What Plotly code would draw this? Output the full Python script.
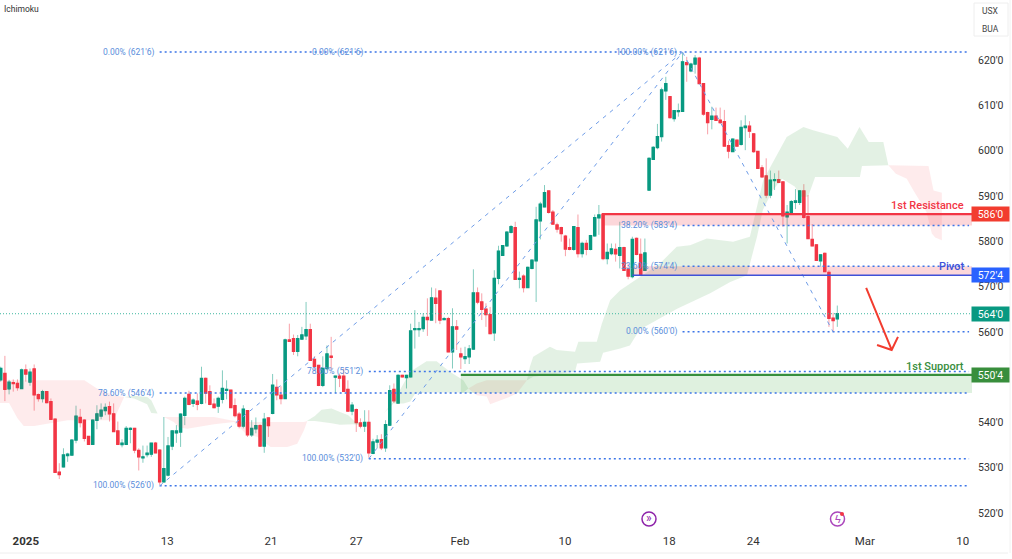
"""Wheat futures candles with Ichimoku cloud, fib levels and S/R zones."""
import plotly.graph_objects as go

# Candle data, one value per bar
OPEN = [549.4,550.8,547.4,548.8,548.6,547.5,551.6,548.9,551.8,546.1,
        545.3,546.8,544.6,540.7,529.0,530.2,532.7,532.8,536.1,541.1,
        540.5,536.9,535.2,540.5,541.4,542.6,543.5,541.9,538.1,535.1,
        535.2,538.5,538.7,533.8,532.2,532.9,533.0,535.4,533.9,526.9,
        528.4,534.8,537.7,537.9,541.6,546.2,544.2,544.7,544.2,549.7,
        546.8,544.0,543.6,545.1,547.1,547.1,543.7,541.8,539.2,542.6,
        537.3,538.6,539.3,534.8,541.0,542.0,547.7,546.0,545.3,558.2,
        558.5,555.7,558.4,559.1,560.5,553.9,552.6,548.2,551.9,554.6,
        550.0,550.2,550.2,547.3,542.5,542.8,539.9,539.2,540.0,533.2,
        535.7,536.2,534.4,539.4,547.3,544.3,550.4,549.9,550.1,560.5,
        560.5,560.7,563.2,562.6,567.4,569.0,562.7,562.9,555.6,561.1,
        555.1,554.1,554.5,556.2,568.6,566.6,565.0,563.8,559.8,571.8,
        576.9,579.0,582.0,583.0,571.6,572.3,569.8,574.0,575.7,584.5,
        587.6,591.1,586.4,583.6,583.0,581.1,578.6,578.2,583.0,577.3,
        579.5,578.2,581.2,585.2,585.9,576.2,577.3,578.2,576.9,578.6,
        573.8,572.2,580.6,577.1,573.6,591.3,598.1,600.7,603.1,613.2,
        611.9,607.1,608.6,608.7,619.4,617.6,619.1,620.4,614.8,608.4,
        606.9,607.6,606.7,606.4,601.1,599.8,602.3,601.4,605.1,605.4,
        603.7,599.8,596.2,594.4,590.2,593.4,593.6,593.1,585.4,586.3,
        588.6,588.6,591.1,585.4,580.4,579.2,575.7,577.3,573.1,563.0,
        562.9]
HIGH = [552.3,554.7,549.4,549.5,549.5,551.9,552.8,551.9,552.8,546.4,
        547.2,546.8,545.3,540.9,531.0,534.3,533.3,536.3,543.7,543.0,
        540.7,536.9,540.7,543.8,544.2,544.2,544.6,544.2,540.2,536.3,
        539.2,538.9,538.7,534.3,534.9,534.9,535.4,535.7,534.0,541.2,
        536.8,538.3,539.4,542.0,545.7,547.0,545.3,546.4,552.3,549.9,
        548.2,545.3,545.7,551.5,549.3,547.1,545.3,542.3,543.8,542.7,
        540.5,541.1,539.6,542.1,541.2,550.7,549.5,548.0,558.5,561.8,
        559.4,559.3,561.1,566.6,561.8,554.6,552.6,554.6,557.0,558.9,
        550.2,550.8,551.9,549.3,544.5,543.1,540.9,542.7,542.7,536.4,
        537.2,537.4,540.5,548.2,548.6,550.6,550.5,550.5,561.8,564.8,
        562.2,564.1,567.4,569.8,569.6,569.0,563.3,563.3,565.2,562.6,
        556.5,556.7,557.1,573.8,569.8,568.5,566.3,565.5,573.6,579.0,
        579.0,582.2,583.6,584.3,573.3,572.7,574.4,576.0,587.6,588.7,
        592.4,591.1,586.9,584.1,583.2,581.4,580.6,583.3,585.9,579.9,
        580.3,581.4,585.9,588.0,585.9,579.5,579.5,579.5,584.3,578.8,
        575.1,581.0,580.8,580.6,580.6,598.5,601.0,605.9,613.9,616.3,
        611.9,608.9,610.4,621.6,620.7,619.4,621.1,620.7,614.8,608.6,
        609.7,609.5,609.5,609.0,602.2,602.7,602.3,606.7,607.8,606.5,
        603.7,599.8,596.8,598.3,595.6,595.0,595.6,593.1,588.0,589.1,
        591.5,591.3,592.6,590.2,583.8,579.2,577.0,577.5,573.6,564.2,
        565.8]
LOW = [549.0,544.7,546.2,546.8,547.0,547.4,549.0,548.1,542.6,544.6,
       544.4,544.2,540.7,529.0,527.5,530.1,531.3,532.7,535.4,538.9,
       535.8,535.2,535.2,538.5,540.7,541.6,540.2,538.0,535.0,534.5,
       535.0,535.4,533.2,529.4,531.1,532.3,532.4,533.3,526.2,526.7,
       528.1,533.9,535.5,534.6,539.4,543.8,543.4,542.7,544.0,544.2,
       543.8,543.1,542.1,544.2,545.1,543.3,541.1,538.7,538.7,536.8,
       536.8,537.6,534.6,533.3,536.8,541.8,544.9,544.0,545.3,557.8,
       554.9,554.6,558.2,558.2,553.7,551.5,548.0,547.8,551.5,551.7,
       546.5,547.8,546.7,542.5,541.6,537.9,538.7,537.9,532.2,533.0,
       534.3,533.9,533.5,539.2,544.3,544.3,549.9,547.5,549.9,556.3,
       558.9,560.0,559.1,562.6,561.9,561.7,562.6,555.6,551.9,556.0,
       551.8,552.9,552.9,556.0,566.1,562.6,561.1,559.6,558.0,570.5,
       576.9,578.8,581.7,571.6,569.6,568.7,569.8,573.8,566.6,580.4,
       587.5,586.1,583.6,581.9,579.9,576.7,578.0,577.9,576.4,576.4,
       576.9,578.0,581.0,581.4,575.8,574.9,576.9,575.5,574.0,573.5,
       571.6,571.8,576.9,572.3,573.6,591.1,598.0,600.3,602.0,611.2,
       607.1,606.4,607.5,608.7,615.2,617.3,617.0,614.7,607.7,603.6,
       604.7,606.6,605.9,601.0,598.3,599.8,600.9,601.1,600.1,602.8,
       599.5,596.1,594.1,589.5,589.5,591.3,592.8,583.2,579.5,585.8,
       587.1,588.0,585.0,580.5,578.9,575.7,574.4,573.3,561.1,560.0,
       561.1]
CLOSE = [551.9,547.3,548.9,548.6,547.7,551.6,550.7,551.1,546.1,545.3,
         546.8,544.4,540.7,529.0,528.5,532.8,533.0,536.1,541.4,540.0,
         536.5,535.2,540.5,541.9,542.7,543.3,541.9,538.0,535.2,535.4,
         538.7,538.7,533.9,532.4,532.4,533.2,535.4,533.3,526.9,529.8,
         534.8,538.1,538.1,541.8,545.3,544.0,544.9,544.0,549.7,546.5,
         544.0,543.3,545.3,547.5,547.3,543.3,541.5,539.2,542.9,537.3,
         538.7,539.3,534.8,540.7,539.3,548.2,546.1,545.3,558.2,557.9,
         555.7,558.5,559.3,560.5,553.7,552.4,548.2,551.9,555.1,554.4,
         550.2,549.8,546.9,542.5,543.8,540.0,539.2,540.0,533.3,535.7,
         536.1,534.4,539.5,547.0,544.8,550.4,550.1,550.4,560.2,560.7,
         560.7,563.2,562.7,567.5,566.3,562.6,562.9,555.6,561.1,560.6,
         554.5,554.5,556.2,568.6,566.6,565.0,563.8,559.6,571.8,577.8,
         579.0,582.0,583.2,571.6,571.8,569.8,574.2,575.8,584.7,588.2,
         590.7,586.4,583.8,582.7,581.7,578.3,578.2,583.2,577.3,579.5,
         578.2,581.2,585.2,585.8,576.2,577.5,578.3,577.2,578.6,573.6,
         572.3,580.4,577.1,572.5,577.4,598.3,600.7,603.1,613.4,614.8,
         607.3,608.8,608.8,619.6,619.0,619.1,620.4,614.8,608.1,606.2,
         607.6,606.7,606.2,601.0,599.9,602.5,601.0,605.1,605.4,604.3,
         599.8,596.1,594.2,590.2,593.5,593.6,593.0,585.6,586.4,588.7,
         588.9,591.1,585.3,580.6,579.0,575.8,577.0,573.3,563.0,562.5,
         564.0]
BARS = list(range(len(OPEN)))

# Ichimoku cloud, the edges of each coloured stretch
RED1_BAR = [-1, 2, 4, 5.5, 8, 16, 20, 23, 27, 29.5]
RED1_TOP = [549.3, 549.3, 549.3, 549.3, 549.3, 549.3, 549.3, 547.5, 546.0, 545.6]
RED1_BOT = [544.3, 544.3, 540.9, 539.2, 539.2, 540.5, 540.5, 540.5, 540.5, 545.6]

GREEN1_BAR = [29.5, 31.9, 35, 36, 37.5]
GREEN1_TOP = [545.6, 545.9, 545.6, 544.9, 542.0]
GREEN1_BOT = [545.6, 545.3, 544.0, 542.1, 542.0]

RED2_BAR = [37.5, 39, 41.4, 42.6, 44.6, 51, 55.8, 58.6, 61.4, 64.5, 68.5, 70.9, 72.5, 73.3]
RED2_TOP = [542.0, 541.2, 541.2, 541.2, 541.2, 541.2, 540.3, 540.1, 540.1, 540.1, 540.1, 540.1, 540.1, 540.3]
RED2_BOT = [542.0, 541.2, 540.1, 538.9, 538.6, 539.6, 540.1, 537.5, 536.8, 534.6, 534.6, 535.3, 538.3, 540.3]

GREEN2_BAR = [73.2, 75.1, 76.7, 79.1, 81.1, 83.1, 84.3, 86.7, 88.7]
GREEN2_TOP = [540.3, 541.4, 542.8, 543.1, 542.3, 541.6, 540.5, 539.4, 539.3]
GREEN2_BOT = [540.3, 540.3, 540.1, 539.8, 539.5, 539.6, 539.6, 539.3, 539.3]

GREEN3_BAR = [88.7, 91.5, 93.9, 96.3, 97.9, 99.1, 101.8, 104.2, 107.4, 110.6, 111.8]
GREEN3_TOP = [539.3, 542.0, 544.6, 548.6, 551.2, 551.9, 553.5, 553.5, 551.2, 549.3, 547.5]
GREEN3_BOT = [539.3, 542.0, 544.2, 544.2, 544.6, 546.4, 546.6, 546.6, 546.6, 546.6, 547.5]

RED3_BAR = [111.8, 113.8, 116.2, 117, 121.8, 123.4, 125.8]
RED3_TOP = [547.5, 548.6, 549.3, 549.3, 549.3, 549.3, 549.3]
RED3_BOT = [547.5, 546.0, 545.7, 544.0, 545.7, 546.4, 549.3]

GREEN4_TOP_BAR = [125.8, 126.5, 127.3, 131.3, 132.9, 137.3, 138.1, 142.5, 143.7, 145.7, 148.1, 152.8,
                  157.6, 161.6, 164.8, 168.8, 175.1, 179.1, 180.7, 182.3, 187.9, 191.9, 194.2, 198.3,
                  200.0, 202.5, 205.3, 207.5, 211.0, 212.2]
GREEN4_TOP = [549.3, 552.3, 554.5, 556.7, 556.0, 555.6, 557.8, 557.8, 561.8, 567.0, 569.2, 572.2,
              575.1, 578.8, 579.1, 580.6, 579.9, 581.0, 587.6, 593.5, 603.0, 605.2, 604.5, 603.4,
              603.0, 600.4, 605.2, 601.9, 601.9, 596.8]
GREEN4_BOT_BAR = [125.8, 127.3, 137.3, 137.8, 143.3, 144, 148.1, 150.4, 152.8, 161.7, 169.6, 174.4,
                  178.4, 180.8, 182.2, 184.6, 186.8, 189.9, 191.1, 193, 194.7, 205.4, 205.9, 212.2]
GREEN4_BOT = [549.3, 550.1, 551.2, 553.0, 553.4, 555.4, 556.3, 557.0, 560.5, 565.1, 568.5, 571.0,
              572.5, 581.0, 586.9, 591.3, 593.8, 592.0, 589.8, 589.8, 594.2, 594.2, 596.6, 596.8]

RED4_TOP_BAR = [212.2, 221.8, 223, 225]
RED4_TOP = [596.8, 596.6, 591.2, 590.7]
RED4_BOT_BAR = [212.2, 214, 216.6, 218.2, 221.3, 222.6, 223.4, 225]
RED4_BOT = [596.8, 594.9, 593.8, 591.2, 586.5, 581.7, 580.8, 580.2]

# Fibonacci levels and their labels
FIB_PRICE = [621.75, 546.5, 526.0, 551.25, 532.0, 583.5, 574.5, 560.0]
FIB_START = [38, 38, 38, 88, 88, 163, 163, 163]
LABEL_TEXT = ["0.00% (621'6)", "78.60% (546'4)", "100.00% (526'0)", "0.00% (621'6)",
              "78.60% (551'2)", "100.00% (532'0)", "100.00% (621'6)", "38.20% (583'4)",
              "23.60% (574'4)", "0.00% (560'0)"]
LABEL_BAR = [38, 38, 38, 88, 88, 88, 163, 163, 163, 163]
LABEL_PRICE = [621.75, 546.5, 526.0, 621.75, 551.25, 532.0, 621.75, 583.5, 574.5, 560.0]

DIAG_BAR = [38, 163, 88, 163, 163, 199]
DIAG_PRICE = [526.0, 621.75, 532.0, 621.75, 621.75, 560.0]

# Support / resistance
ZONE_START = [143.7, 151, 110]
ZONE_LINE = [586.0, 572.5, 550.5]
ZONE_EDGE = [583.5, 574.5, 546.5]
ZONE_COLOR = ["#f23645", "#3f51d8", "#388e3c"]
ZONE_FILL = ["rgba(242,54,69,0.2)", "rgba(242,54,69,0.2)", "rgba(76,175,80,0.18)"]
ZONE_WIDTH = [2.2, 1.5, 2.2]
ZONE_NAME = ["1st Resistance", "Pivot", "1st Support"]
ZONE_TAG = ["586'0", "572'4", "550'4"]
TAG_COLOR = ["#f23c2f", "#2962ff", "#388e3c"]
LAST_PRICE = 564.0
LAST_TAG = "564'0"

ARROW_BAR = [206.9, 213.0, 209.5, 213.0, 214.5]
ARROW_PRICE = [569.7, 556.0, 557.1, 556.0, 558.9]

Y_TICKS = [520, 530, 540, 560, 570, 580, 590, 600, 610, 620]
Y_LABELS = ["520'0", "530'0", "540'0", "560'0", "570'0", "580'0", "590'0", "600'0", "610'0", "620'0"]
X_TICKS = [6, 39.8, 64.6, 85, 109.8, 134.9, 159.8, 179.9, 206.6, 230]
X_LABELS = ["<b>2025</b>", "13", "21", "27", "Feb", "10", "18", "24", "Mar", "10"]

W, H = 1012, 559
PLOT_W, PLOT_H = 972, 528
X_RANGE = [-0.17, 232.2]
Y_RANGE = [516.7, 633.25]
GREEN, RED = "#089981", "#f23645"
GREEN_WICK, RED_WICK = "#83ccbf", "#f8a0a8"
CLOUD_GREEN = "rgba(67,160,71,0.15)"
CLOUD_RED = "rgba(242,54,69,0.10)"
FIB_BLUE = "#3d76e8"
FIB_TEXT = "#5a8edb"
FONT = "Roboto, Arial, sans-serif"


def px_x(x):
    return x / PLOT_W


def px_y(y):
    return (PLOT_H - y) / PLOT_H


def add_cloud(fig, top_bar, top, bot_bar, bot, color):
    fig.add_trace(go.Scatter(
        x=top_bar + bot_bar[::-1], y=top + bot[::-1], mode="lines", fill="toself",
        fillcolor=color, line=dict(width=0), hoverinfo="skip", showlegend=False,
    ))


def screen_text(x, y, text, size, color, xanchor="center"):
    return dict(
        x=px_x(x), y=px_y(y), xref="paper", yref="paper", text=text, showarrow=False,
        xanchor=xanchor, yanchor="middle", font=dict(size=size, color=color, family=FONT),
    )


fig = go.Figure()

add_cloud(fig, RED1_BAR, RED1_TOP, RED1_BAR, RED1_BOT, CLOUD_RED)
add_cloud(fig, GREEN1_BAR, GREEN1_TOP, GREEN1_BAR, GREEN1_BOT, CLOUD_GREEN)
add_cloud(fig, RED2_BAR, RED2_TOP, RED2_BAR, RED2_BOT, CLOUD_RED)
add_cloud(fig, GREEN2_BAR, GREEN2_TOP, GREEN2_BAR, GREEN2_BOT, CLOUD_GREEN)
add_cloud(fig, GREEN3_BAR, GREEN3_TOP, GREEN3_BAR, GREEN3_BOT, CLOUD_GREEN)
add_cloud(fig, RED3_BAR, RED3_TOP, RED3_BAR, RED3_BOT, CLOUD_RED)
add_cloud(fig, GREEN4_TOP_BAR, GREEN4_TOP, GREEN4_BOT_BAR, GREEN4_BOT, CLOUD_GREEN)
add_cloud(fig, RED4_TOP_BAR, RED4_TOP, RED4_BOT_BAR, RED4_BOT, CLOUD_RED)

# zones sit on the cloud, under the candles
for start, line, edge, fill in zip(ZONE_START, ZONE_LINE, ZONE_EDGE, ZONE_FILL):
    fig.add_trace(go.Scatter(
        x=[start, X_RANGE[1], X_RANGE[1], start], y=[line, line, edge, edge], mode="lines",
        fill="toself", fillcolor=fill, line=dict(width=0), hoverinfo="skip", showlegend=False,
    ))

# last price
fig.add_trace(go.Scatter(
    x=X_RANGE, y=[LAST_PRICE, LAST_PRICE], mode="lines",
    line=dict(color="#3fb8a0", width=1, dash="1px,2px"), hoverinfo="skip", showlegend=False,
))

# fib retracement lines
for start, price in zip(FIB_START, FIB_PRICE):
    fig.add_trace(go.Scatter(
        x=[start, X_RANGE[1] - 0.7], y=[price, price], mode="lines",
        line=dict(color=FIB_BLUE, width=1.5, dash="2px,3px"), hoverinfo="skip", showlegend=False,
    ))

for i in range(0, len(DIAG_BAR), 2):
    fig.add_trace(go.Scatter(
        x=DIAG_BAR[i:i + 2], y=DIAG_PRICE[i:i + 2], mode="lines",
        line=dict(color="#6f9de8", width=1, dash="4px,5px"), hoverinfo="skip", showlegend=False,
    ))

# wicks first in a paler colour, then the solid bodies on top
fig.add_trace(go.Candlestick(
    x=BARS, open=OPEN, high=HIGH, low=LOW, close=CLOSE, showlegend=False,
    increasing=dict(line=dict(color=GREEN_WICK, width=1), fillcolor=GREEN_WICK),
    decreasing=dict(line=dict(color=RED_WICK, width=1), fillcolor=RED_WICK),
))
fig.add_trace(go.Candlestick(
    x=BARS, open=OPEN, close=CLOSE,
    high=[max(o, c) for o, c in zip(OPEN, CLOSE)],
    low=[min(o, c) for o, c in zip(OPEN, CLOSE)],
    showlegend=False,
    increasing=dict(line=dict(color=GREEN, width=1.4), fillcolor=GREEN),
    decreasing=dict(line=dict(color=RED, width=1.4), fillcolor=RED),
))

for start, line, color, width in zip(ZONE_START, ZONE_LINE, ZONE_COLOR, ZONE_WIDTH):
    fig.add_trace(go.Scatter(
        x=[start, X_RANGE[1]], y=[line, line], mode="lines",
        line=dict(color=color, width=width), hoverinfo="skip", showlegend=False,
    ))

fig.add_trace(go.Scatter(
    x=ARROW_BAR, y=ARROW_PRICE, mode="lines", line=dict(color="#f23c2f", width=2),
    hoverinfo="skip", showlegend=False,
))

annotations = []
for text, bar, price in zip(LABEL_TEXT, LABEL_BAR, LABEL_PRICE):
    annotations.append(dict(
        x=bar, y=price, xref="x", yref="y", text=text, showarrow=False, xanchor="right",
        xshift=-4, font=dict(size=8.5, color=FIB_TEXT, family=FONT),
    ))

for name, line, color in zip(ZONE_NAME, ZONE_LINE, ZONE_COLOR):
    annotations.append(dict(
        x=px_x(966), y=line, xref="paper", yref="y", text=name, showarrow=False, xanchor="right",
        yanchor="bottom", yshift=0, font=dict(size=11, color=color, family=FONT, weight=500),
    ))

tags = list(zip(ZONE_TAG, ZONE_LINE, TAG_COLOR)) + [(LAST_TAG, LAST_PRICE, "#089981")]
for text, price, color in tags:
    annotations.append(dict(
        x=px_x(990), y=price, xref="paper", yref="y", text=text, showarrow=False, xanchor="center",
        yanchor="middle", bgcolor=color, width=35, height=12, borderpad=1,
        font=dict(size=10.5, color="white", family=FONT),
    ))

annotations.append(screen_text(2, 9, "Ichimoku", 8.5, "#333333", xanchor="left"))
annotations.append(screen_text(991, 11, "USX", 8.5, "#444444"))
annotations.append(screen_text(991, 29, "BUA", 8.5, "#444444"))

# the two event badges on the time scale
annotations.append(screen_text(649, 518, "»", 12, "#8e24aa"))
annotations.append(screen_text(837.5, 519, "ϟ", 11, "#ab47bc"))

shapes = [
    dict(type="circle", xref="paper", yref="paper", x0=px_x(642), x1=px_x(656), y0=px_y(526), y1=px_y(512),
         line=dict(color="#8e24aa", width=1.5)),
    dict(type="circle", xref="paper", yref="paper", x0=px_x(830.5), x1=px_x(844.5), y0=px_y(526), y1=px_y(512),
         line=dict(color="#ab47bc", width=1.5)),
    dict(type="circle", xref="paper", yref="paper", x0=px_x(840), x1=px_x(844), y0=px_y(516), y1=px_y(512),
         fillcolor="#f23645", line=dict(width=0)),
    dict(type="rect", xref="paper", yref="paper", x0=px_x(974), x1=px_x(1008), y0=px_y(36), y1=px_y(3),
         line=dict(color="#eeeeee", width=1)),
    dict(type="line", xref="paper", yref="paper", x0=0, x1=px_x(1008), y0=px_y(553), y1=px_y(553),
         line=dict(color="#eeeeee", width=1)),
    dict(type="line", xref="paper", yref="paper", x0=px_x(1010), x1=px_x(1010), y0=px_y(553), y1=px_y(0),
         line=dict(color="#f2f2f2", width=1)),
]

fig.update_layout(
    width=W, height=H,
    margin=dict(l=0, r=W - PLOT_W, t=0, b=H - PLOT_H, autoexpand=False),
    paper_bgcolor="white", plot_bgcolor="white",
    font=dict(family=FONT, color="#333333"),
    showlegend=False,
    annotations=annotations, shapes=shapes,
    xaxis=dict(
        range=X_RANGE, showgrid=False, zeroline=False, showline=False, ticks="",
        tickmode="array", tickvals=X_TICKS, ticktext=X_LABELS, tickangle=0, ticklabelstandoff=4,
        tickfont=dict(size=11.5, color="#333333"), rangeslider=dict(visible=False),
    ),
    yaxis=dict(
        range=Y_RANGE, side="right", showgrid=False, zeroline=False, showline=False, ticks="",
        tickmode="array", tickvals=Y_TICKS, ticktext=Y_LABELS, ticklabelstandoff=5,
        tickfont=dict(size=10.5, color="#333333"),
    ),
)

fig.write_html("out.html", config=dict(displayModeBar=False),
               post_script="document.body.style.margin = '0';")
